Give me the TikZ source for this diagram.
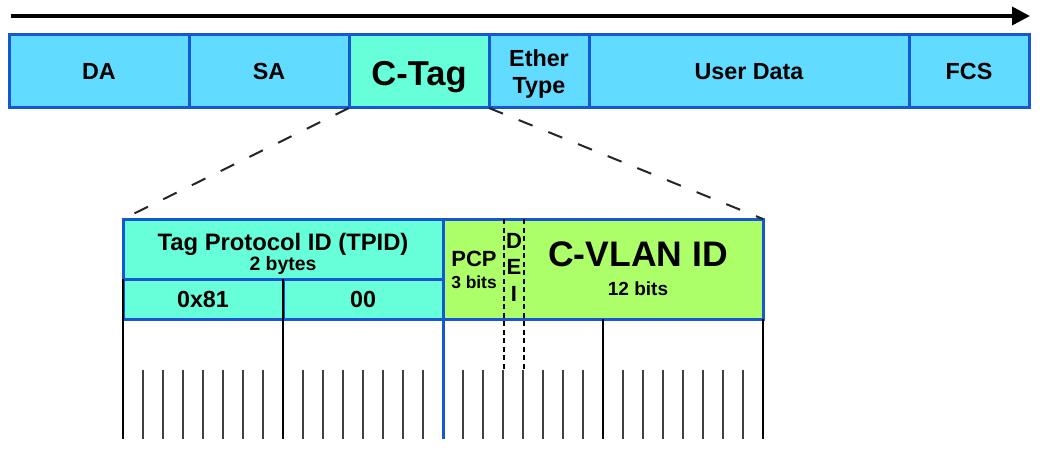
\documentclass[tikz,border=0pt]{standalone}
\usepackage{fontspec}
\setmainfont{Liberation Sans}
\usetikzlibrary{arrows.meta}

\definecolor{framecyan}{RGB}{97,219,255}
\definecolor{tagaqua}{RGB}{102,255,217}
\definecolor{tcigreen}{RGB}{172,255,104}
\definecolor{edgeblue}{RGB}{22,88,212}

\newcommand{\boldat}[2]{\bfseries\fontsize{#1}{#2}\selectfont}

\begin{document}
\begin{tikzpicture}[x=1pt, y=-1pt,
    field/.style={draw=edgeblue, line width=3pt, fill=framecyan, anchor=north west,
        minimum height=73pt, inner sep=0pt, outer sep=0pt, align=center,
        font=\boldat{23.3}{27}},
    txt/.style={inner sep=0pt, anchor=base},
    bytemark/.style={line width=2.5pt, black},
    bitmark/.style={line width=2pt, black!75},
    zoomline/.style={line width=2pt, black!85, dash pattern=on 15pt off 17pt},
    deiline/.style={line width=1.5pt, black, dash pattern=on 5pt off 3.5pt}]

    \useasboundingbox (0,0) rectangle (1043,449);

    % Direction of transmission
    \coordinate (flowstart) at (11,16);
    \coordinate (flowend) at (1030,16);
    \draw[line width=3.5pt, -{Triangle[length=18pt,width=18pt]}] (flowstart) -- (flowend);

    % Ethernet frame
    \node[field, minimum width=180pt] (da) at (9,35) {DA};
    \node[field, minimum width=160pt] (sa) at (189,35) {SA};
    \node[field, fill=tagaqua, minimum width=140pt, text height=28pt, text depth=0pt,
        font=\boldat{34.5}{40}] (ctag) at (349,35) {C-Tag};
    \node[field, minimum width=100pt] (etype) at (489,35) {\rule{0pt}{22pt}Ether\\Type};
    \node[field, minimum width=320pt] (udata) at (589,35) {User Data};
    \node[field, minimum width=120pt] (fcs) at (909,35) {FCS};

    % C-Tag detail
    \node[field, fill=tagaqua, minimum width=320pt, minimum height=60pt] (tpid) at (123,219) {};
    \node[field, fill=tagaqua, minimum width=160pt, minimum height=40pt] (hi) at (123,279) {0x81};
    \node[field, fill=tagaqua, minimum width=160pt, minimum height=40pt] (lo) at (283,279) {00};
    \node[field, fill=tcigreen, minimum width=320pt, minimum height=100pt] (tci) at (443,219) {};

    \node[txt, font=\boldat{23.8}{27}] (tpidname) at (283,250) {Tag Protocol ID (TPID)};
    \node[txt, font=\boldat{19.4}{22}] (tpidsize) at (283,270) {2 bytes};
    \node[txt, font=\boldat{22}{26}] (pcp) at (474,266.5) {PCP};
    \node[txt, font=\boldat{17.4}{20}] (pcpsize) at (474,288.5) {3 bits};
    \node[inner sep=0pt, anchor=north, align=center, font=\boldat{22}{26.5}] (dei) at (514,233) {D\\E\\I};
    \node[txt, font=\boldat{35.5}{40}] (vid) at (638,266.5) {C-VLAN ID};
    \node[txt, font=\boldat{19}{22}] (vidsize) at (638,295.5) {12 bits};

    % Zoom lines
    \draw[zoomline] (ctag.south west) -- (tpid.north west);
    \draw[zoomline] (ctag.south east) -- (tci.north east);

    % Bit positions
    \draw[deiline] (504,219) -- (504,370);
    \draw[deiline] (524,219) -- (524,370);
    \foreach \b in {1,...,7,9,10,...,15,17,18,...,23,25,26,...,31}
        \draw[bitmark] (123+20*\b,370) -- (123+20*\b,439);
    \draw[bytemark] (hi.north west) -- ++(0,160);
    \draw[bytemark] (lo.north west) -- ++(0,160);
    \draw[line width=3pt, edgeblue] (tci.south west) -- ++(0,120);
    \draw[bytemark] (tci.south) -- ++(0,120);
    \draw[bytemark] (tci.south east) -- ++(0,120);

\end{tikzpicture}
\end{document}
